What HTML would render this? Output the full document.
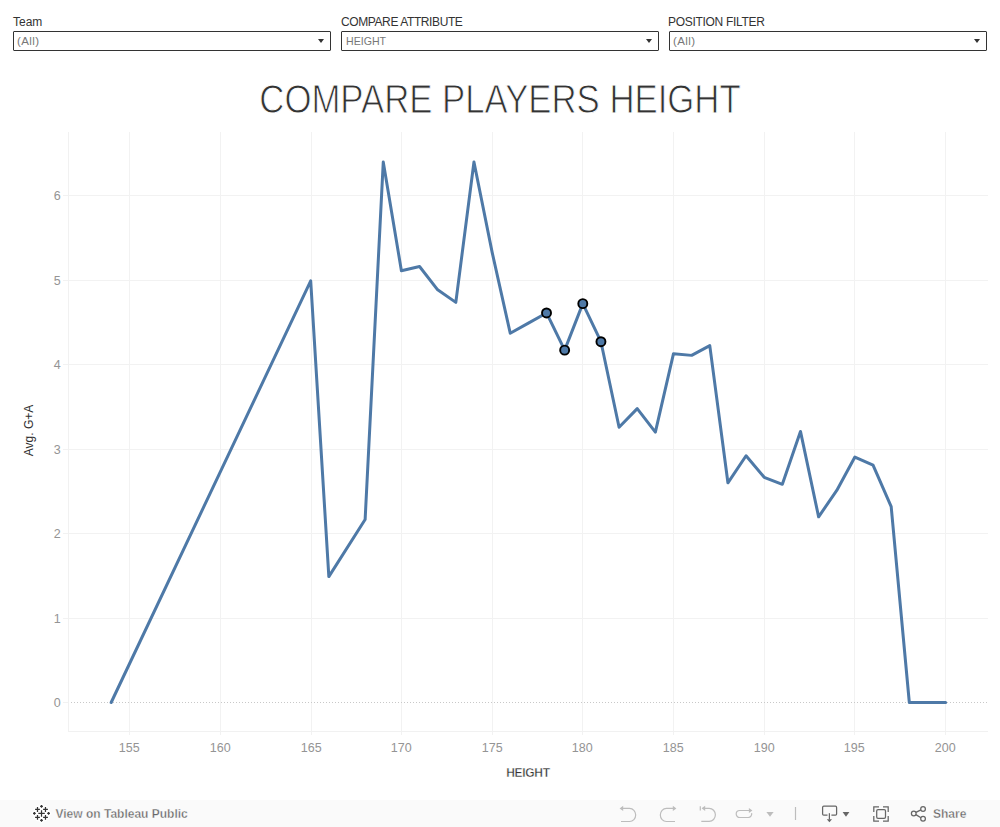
<!DOCTYPE html>
<html><head><meta charset="utf-8">
<style>
html,body{margin:0;padding:0;width:1000px;height:827px;overflow:hidden;background:#fff;font-family:"Liberation Sans",sans-serif;}
.lab{position:absolute;top:15px;font-size:12px;color:#333;white-space:nowrap;line-height:14px}
.dd{position:absolute;top:31px;width:316px;height:18px;border:1px solid #333;border-radius:1px;background:#fff}
.dd .v{position:absolute;left:3px;top:2px;font-size:11px;line-height:14px;color:#777;white-space:nowrap}
.dd .a{position:absolute;right:6px;top:7px;width:0;height:0;border-left:3px solid transparent;border-right:3px solid transparent;border-top:4px solid #333}
.title{position:absolute;left:0;width:1000px;top:79px;text-align:center;font-size:34.75px;line-height:40px;color:#555;white-space:nowrap;transform:scaleY(1.16)}
.yl{position:absolute;left:20.7px;width:40px;text-align:right;font-size:12.5px;line-height:15px;color:#949494}
.xl{position:absolute;top:740.6px;width:40px;text-align:center;font-size:12.5px;line-height:15px;color:#949494}
.xt{position:absolute;top:766px;left:478px;letter-spacing:-0.3px;width:100px;text-align:center;font-size:12px;line-height:15px;color:#333;font-weight:bold;-webkit-text-stroke:0.4px #fff}
.yt{position:absolute;left:-21px;top:423px;width:100px;text-align:center;font-size:12px;line-height:15px;color:#333;transform:rotate(-90deg)}
.tb{position:absolute;left:0;top:800px;width:1000px;height:27px;background:#fafafa}
.tbt{position:absolute;top:807px;font-size:12px;line-height:14px;font-weight:bold;color:#666;white-space:nowrap;-webkit-text-stroke:0.35px #fafafa}
</style></head><body>
<div class="lab" style="left:13px">Team</div>
<div class="dd" style="left:13px"><div class="v" style="font-size:11.5px;letter-spacing:0.4px">(All)</div><div class="a"></div></div>
<div class="lab" style="left:341px;letter-spacing:-0.4px">COMPARE ATTRIBUTE</div>
<div class="dd" style="left:341px"><div class="v" style="font-size:10.6px;left:4px">HEIGHT</div><div class="a"></div></div>
<div class="lab" style="left:668px;letter-spacing:-0.3px">POSITION FILTER</div>
<div class="dd" style="left:669px"><div class="v" style="font-size:11.5px;letter-spacing:0.4px">(All)</div><div class="a"></div></div>
<svg style="position:absolute;left:0;top:70.8px" width="1000" height="55"><text x="500" y="35.95" transform="scale(1,1.16)" text-anchor="middle" font-family="Liberation Sans" font-size="34.75" fill="#333" stroke="#fff" stroke-width="0.8">COMPARE PLAYERS HEIGHT</text></svg>
<svg style="position:absolute;left:0;top:0" width="1000" height="800">
<line x1="129.5" y1="132" x2="129.5" y2="735" stroke="#f2f2f2" stroke-width="1"/>
<line x1="220.5" y1="132" x2="220.5" y2="735" stroke="#f2f2f2" stroke-width="1"/>
<line x1="311.5" y1="132" x2="311.5" y2="735" stroke="#f2f2f2" stroke-width="1"/>
<line x1="401.5" y1="132" x2="401.5" y2="735" stroke="#f2f2f2" stroke-width="1"/>
<line x1="492.5" y1="132" x2="492.5" y2="735" stroke="#f2f2f2" stroke-width="1"/>
<line x1="582.5" y1="132" x2="582.5" y2="735" stroke="#f2f2f2" stroke-width="1"/>
<line x1="673.5" y1="132" x2="673.5" y2="735" stroke="#f2f2f2" stroke-width="1"/>
<line x1="764.5" y1="132" x2="764.5" y2="735" stroke="#f2f2f2" stroke-width="1"/>
<line x1="854.5" y1="132" x2="854.5" y2="735" stroke="#f2f2f2" stroke-width="1"/>
<line x1="945.5" y1="132" x2="945.5" y2="735" stroke="#f2f2f2" stroke-width="1"/>
<line x1="63" y1="618.5" x2="988" y2="618.5" stroke="#f2f2f2" stroke-width="1"/>
<line x1="63" y1="533.5" x2="988" y2="533.5" stroke="#f2f2f2" stroke-width="1"/>
<line x1="63" y1="449.5" x2="988" y2="449.5" stroke="#f2f2f2" stroke-width="1"/>
<line x1="63" y1="364.5" x2="988" y2="364.5" stroke="#f2f2f2" stroke-width="1"/>
<line x1="63" y1="280.5" x2="988" y2="280.5" stroke="#f2f2f2" stroke-width="1"/>
<line x1="63" y1="195.5" x2="988" y2="195.5" stroke="#f2f2f2" stroke-width="1"/>
<line x1="63" y1="702.5" x2="68" y2="702.5" stroke="#f2f2f2" stroke-width="1"/>
<line x1="71" y1="702.5" x2="988" y2="702.5" stroke="#c8c8c8" stroke-width="1" stroke-dasharray="1 2"/>
<line x1="68.5" y1="132" x2="68.5" y2="732" stroke="#f1f1f1" stroke-width="1"/>
<line x1="68" y1="731.5" x2="988" y2="731.5" stroke="#f1f1f1" stroke-width="1"/>
<polyline points="111.16,702.50 310.70,280.84 328.84,576.60 365.12,519.56 383.26,162.04 401.40,270.70 419.54,266.48 437.68,289.80 455.82,302.39 473.96,162.04 492.10,252.12 510.24,333.24 528.38,323.09 546.52,312.95 564.66,350.13 582.80,303.66 600.94,341.69 619.08,427.20 637.22,408.61 655.36,432.10 673.50,353.68 691.64,355.37 709.78,345.66 727.92,482.80 746.06,455.76 764.20,477.31 782.34,484.32 800.48,431.42 818.62,516.85 836.76,490.41 854.90,457.03 873.04,465.06 891.18,506.63 909.32,702.50 927.46,702.50 945.60,702.50" fill="none" stroke="#4e79a7" stroke-width="3" stroke-linejoin="round" stroke-linecap="round"/>
<circle cx="546.52" cy="312.95" r="4.5" fill="#4e79a7" stroke="#000" stroke-width="1.9"/>
<circle cx="564.66" cy="350.13" r="4.5" fill="#4e79a7" stroke="#000" stroke-width="1.9"/>
<circle cx="582.80" cy="303.66" r="4.5" fill="#4e79a7" stroke="#000" stroke-width="1.9"/>
<circle cx="600.94" cy="341.69" r="4.5" fill="#4e79a7" stroke="#000" stroke-width="1.9"/>
</svg>
<div class="yl" style="top:695.7px">0</div>
<div class="yl" style="top:611.7px">1</div>
<div class="yl" style="top:526.7px">2</div>
<div class="yl" style="top:442.7px">3</div>
<div class="yl" style="top:357.7px">4</div>
<div class="yl" style="top:273.7px">5</div>
<div class="yl" style="top:188.7px">6</div>
<div class="xl" style="left:109.2px">155</div>
<div class="xl" style="left:200.2px">160</div>
<div class="xl" style="left:291.2px">165</div>
<div class="xl" style="left:381.2px">170</div>
<div class="xl" style="left:472.2px">175</div>
<div class="xl" style="left:562.2px">180</div>
<div class="xl" style="left:653.2px">185</div>
<div class="xl" style="left:744.2px">190</div>
<div class="xl" style="left:834.2px">195</div>
<div class="xl" style="left:925.2px">200</div>
<div class="xt">HEIGHT</div>
<div class="yt">Avg. G+A</div>

<div class="tb"></div>
<svg style="position:absolute;left:0;top:800px" width="1000" height="27" viewBox="0 800 1000 27">
<g stroke="#fff" stroke-width="3.2" stroke-linecap="round" fill="none">
<path d="M38.3 813.46H44.8M41.52 810.3V816.65"/>
<path d="M35.1 809.49H39.9M37.49 807.1V811.9M43.1 809.49H47.9M45.47 807.1V811.9M35.1 817.38H39.9M37.49 815V819.8M43.1 817.38H47.9M45.47 815V819.8"/>
<path d="M40.1 806.35H42.9M41.52 804.95V807.75M40.1 820.43H42.9M41.52 819V821.8M33 813.46H35.8M34.41 812.05V814.85M47.17 813.46H49.97M48.57 812.05V814.85"/>
</g>
<g stroke="#333" stroke-width="1.25" fill="none">
<path d="M38.3 813.46H44.8M41.52 810.3V816.65"/>
<path d="M35.1 809.49H39.9M37.49 807.1V811.9M43.1 809.49H47.9M45.47 807.1V811.9M35.1 817.38H39.9M37.49 815V819.8M43.1 817.38H47.9M45.47 815V819.8"/>
<path d="M40.1 806.35H42.9M41.52 804.95V807.75M40.1 820.43H42.9M41.52 819V821.8M33 813.46H35.8M34.41 812.05V814.85M47.17 813.46H49.97M48.57 812.05V814.85"/>
</g>
<g stroke="#bdbdbd" stroke-width="1.2" fill="none">
<path d="M621.5 808.4H629.6A6.1 6.55 0 0 1 629.6 821.5H621"/>
<path d="M674.5 808.4H666.4A6.1 6.55 0 0 0 666.4 821.5H675"/>
<path d="M700.3 806.2V810.6M702.8 808.3H709.2A6.2 6.55 0 0 1 709.2 821.4H701.3"/>
<path d="M751.6 813.2A3.5 3.5 0 0 1 748.3 817.5H739.7A3.5 3.5 0 0 1 739.7 810.5H749.5"/>
<path d="M795.5 807V820"/>
</g>
<g fill="#bdbdbd">
<path d="M619.6 808.4L623.2 805.8V811Z"/>
<path d="M676.4 808.4L672.8 805.8V811Z"/>
<path d="M701.6 808.3L705.2 805.7V810.9Z"/>
<path d="M752.4 810.5L748.9 808.1V812.9Z"/>
<path d="M766.4 812H773.6L770 816.8Z"/>
</g>
<g stroke="#666" stroke-width="1.25" fill="none">
<path d="M827.5 815.2H823.8A1.2 1.2 0 0 1 822.6 814V807.4A1.2 1.2 0 0 1 823.8 806.2H835.4A1.2 1.2 0 0 1 836.6 807.4V814A1.2 1.2 0 0 1 835.4 815.2H831.4"/>
<path d="M829.4 813.2V819.5"/>
<path d="M873.8 812V806.8H879M883 806.8H888.2V812M888.2 816V821H883M879 821H873.8V816"/>
<rect x="876.7" y="809.7" width="8.8" height="8.6" rx="1.3"/>
<circle cx="913.75" cy="813.5" r="2.35"/>
<circle cx="923.05" cy="808.9" r="2.35"/>
<circle cx="923.05" cy="818.8" r="2.35"/>
<path d="M915.9 812.4L920.9 809.9M915.9 814.6L920.9 817.7"/>
</g>
<g fill="#666">
<path d="M826.8 819.2H832L829.4 822.2Z"/>
<path d="M842.6 812H849.4L846 816.8Z"/>
</g>
</svg>
<div class="tbt" style="left:55.5px;width:140px">View on Tableau Public</div>
<div class="tbt" style="left:933px;width:40px">Share</div>
</body></html>
